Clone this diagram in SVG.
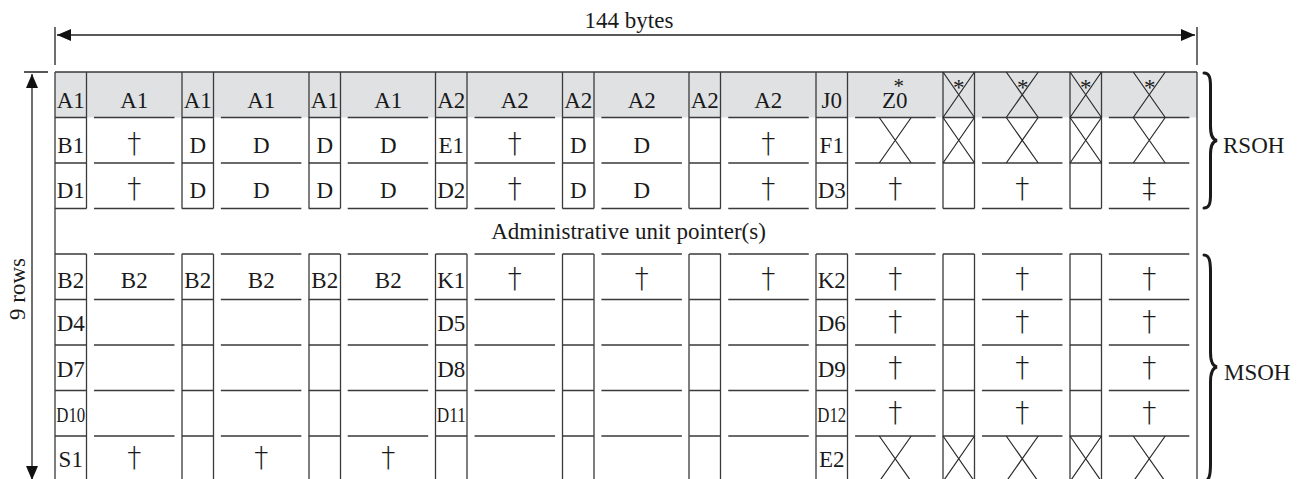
<svg xmlns="http://www.w3.org/2000/svg" xmlns:xlink="http://www.w3.org/1999/xlink" width="1297" height="479" viewBox="0 0 1297 479">
<defs>
<style>
text{font-family:"Liberation Serif","Times New Roman",serif;font-size:23px;fill:#1a1a1a;text-anchor:middle}
.lbl{font-size:23px}
.dg{font-family:"DejaVu Sans","Noto Sans",sans-serif;font-weight:200;font-size:28px}
.ln{stroke:#3a3a3a;stroke-width:1.3;fill:none}
.seg{stroke:#3a3a3a;stroke-width:1.3;stroke-dasharray:31.5 7.5 80.5 7.35}
.x{stroke:#2a2a2a;stroke-width:1.2;fill:none}
.dim{stroke:#222;stroke-width:1.3;fill:none}
.brace{stroke:#1a1a1a;stroke-width:3;fill:none;stroke-linecap:round}
.cond{font-size:22px}
</style>
<marker id="ah" markerWidth="14" markerHeight="12" refX="14" refY="6" orient="auto-start-reverse" markerUnits="userSpaceOnUse">
<path d="M0,0 L14,6 L0,12 z" fill="#111"/>
</marker>
<path id="xw" class="x" d="M-16,0 L16,45.5 M16,0 L-16,45.5"/>
<path id="xs" class="x" d="M0,0 L31.5,45.5 M31.5,0 L0,45.5"/>
</defs>

<g id="frame">
<rect x="55" y="72" width="1142" height="45.5" fill="#e0e1e3"/>
<path class="ln" d="M55,72 H1197 M55,72 V481.5 M1197,72 V481.5"/>
</g>

<g id="grid">
<line class="seg" x1="55" y1="117.5" x2="1189.5" y2="117.5"/>
<line class="seg" x1="55" y1="163" x2="1189.5" y2="163"/>
<line class="seg" x1="55" y1="208.5" x2="1189.5" y2="208.5"/>
<line class="seg" x1="55" y1="254" x2="1189.5" y2="254"/>
<line class="seg" x1="55" y1="299.5" x2="1189.5" y2="299.5"/>
<line class="seg" x1="55" y1="345" x2="1189.5" y2="345"/>
<line class="seg" x1="55" y1="390.5" x2="1189.5" y2="390.5"/>
<line class="seg" x1="55" y1="436" x2="1189.5" y2="436"/>
<path class="ln" d="M86.5,72V208.5M86.5,254V481.5 M182,72V208.5M182,254V481.5 M213.5,72V208.5M213.5,254V481.5 M309,72V208.5M309,254V481.5 M340.5,72V208.5M340.5,254V481.5 M435.5,72V208.5M435.5,254V481.5 M467,72V208.5M467,254V481.5 M562.5,72V208.5M562.5,254V481.5 M594,72V208.5M594,254V481.5 M689,72V208.5M689,254V481.5 M720.5,72V208.5M720.5,254V481.5 M816,72V208.5M816,254V481.5 M847.5,72V208.5M847.5,254V481.5 M943,72V208.5M943,254V481.5 M974.5,72V208.5M974.5,254V481.5 M1070,72V208.5M1070,254V481.5 M1101.5,72V208.5M1101.5,254V481.5"/>
</g>

<g id="row-A">
<text x="70.75" y="108">A1</text><text x="134.25" y="108">A1</text>
<text x="197.75" y="108">A1</text><text x="261.25" y="108">A1</text>
<text x="324.75" y="108">A1</text><text x="388.25" y="108">A1</text>
<text x="451.25" y="108">A2</text><text x="514.75" y="108">A2</text>
<text x="578.25" y="108">A2</text><text x="641.75" y="108">A2</text>
<text x="704.75" y="108">A2</text><text x="768.25" y="108">A2</text>
<text x="831.75" y="108">J0</text>
<text x="882" y="107.5" style="text-anchor:start">Z0<tspan dx="-14" dy="-15" style="font-size:21px">*</tspan></text>
<use xlink:href="#xs" x="943" y="72"/><text x="958.75" y="95">*</text>
<use xlink:href="#xw" x="1022.25" y="72"/><text x="1022.75" y="95">*</text>
<use xlink:href="#xs" x="1070" y="72"/><text x="1085.75" y="95">*</text>
<use xlink:href="#xw" x="1149.25" y="72"/><text x="1149.75" y="95">*</text>
</g>

<g id="row-B1">
<text x="70.75" y="153">B1</text><text class="dg" x="134.25" y="153">†</text>
<text x="197.75" y="153">D</text><text x="261.25" y="153">D</text>
<text x="324.75" y="153">D</text><text x="388.25" y="153">D</text>
<text x="451.25" y="153">E1</text><text class="dg" x="514.75" y="153">†</text>
<text x="578.25" y="153">D</text><text x="641.75" y="153">D</text>
<text class="dg" x="768.25" y="153">†</text>
<text x="831.75" y="153">F1</text>
<use xlink:href="#xw" x="895.25" y="117.5"/>
<use xlink:href="#xs" x="943" y="117.5"/>
<use xlink:href="#xw" x="1022.25" y="117.5"/>
<use xlink:href="#xs" x="1070" y="117.5"/>
<use xlink:href="#xw" x="1149.25" y="117.5"/>
</g>

<g id="row-D1">
<text x="70.75" y="198">D1</text><text class="dg" x="134.25" y="198">†</text>
<text x="197.75" y="198">D</text><text x="261.25" y="198">D</text>
<text x="324.75" y="198">D</text><text x="388.25" y="198">D</text>
<text x="451.25" y="198">D2</text><text class="dg" x="514.75" y="198">†</text>
<text x="578.25" y="198">D</text><text x="641.75" y="198">D</text>
<text class="dg" x="768.25" y="198">†</text>
<text x="831.75" y="198">D3</text><text class="dg" x="895.25" y="198">†</text>
<text class="dg" x="1022.25" y="198">†</text>
<text class="dg" x="1149.25" y="198">‡</text>
</g>

<g id="au-pointer">
<text class="lbl" x="628.5" y="239">Administrative unit pointer(s)</text>
</g>

<g id="row-B2">
<text x="70.75" y="288">B2</text><text x="134.25" y="288">B2</text>
<text x="197.75" y="288">B2</text><text x="261.25" y="288">B2</text>
<text x="324.75" y="288">B2</text><text x="388.25" y="288">B2</text>
<text x="451.25" y="288">K1</text><text class="dg" x="514.75" y="288">†</text>
<text class="dg" x="641.75" y="288">†</text>
<text class="dg" x="768.25" y="288">†</text>
<text x="831.75" y="288">K2</text><text class="dg" x="895.25" y="288">†</text>
<text class="dg" x="1022.25" y="288">†</text>
<text class="dg" x="1149.25" y="288">†</text>
</g>

<g id="row-D4">
<text x="70.75" y="331">D4</text>
<text x="451.25" y="331">D5</text>
<text x="831.75" y="331">D6</text><text class="dg" x="895.25" y="331">†</text>
<text class="dg" x="1022.25" y="331">†</text>
<text class="dg" x="1149.25" y="331">†</text>
</g>

<g id="row-D7">
<text x="70.75" y="377">D7</text>
<text x="451.25" y="377">D8</text>
<text x="831.75" y="377">D9</text><text class="dg" x="895.25" y="377">†</text>
<text class="dg" x="1022.25" y="377">†</text>
<text class="dg" x="1149.25" y="377">†</text>
</g>

<g id="row-D10">
<text class="cond" x="70.75" y="422" textLength="29" lengthAdjust="spacingAndGlyphs">D10</text>
<text class="cond" x="451.25" y="422" textLength="29" lengthAdjust="spacingAndGlyphs">D11</text>
<text class="cond" x="831.75" y="422" textLength="29" lengthAdjust="spacingAndGlyphs">D12</text>
<text class="dg" x="895.25" y="422">†</text>
<text class="dg" x="1022.25" y="422">†</text>
<text class="dg" x="1149.25" y="422">†</text>
</g>

<g id="row-S1">
<text x="70.75" y="467">S1</text><text class="dg" x="134.25" y="467">†</text>
<text class="dg" x="261.25" y="467">†</text>
<text class="dg" x="388.25" y="467">†</text>
<text x="831.75" y="467">E2</text>
<use xlink:href="#xw" x="895.25" y="436"/>
<use xlink:href="#xs" x="943" y="436"/>
<use xlink:href="#xw" x="1022.25" y="436"/>
<use xlink:href="#xs" x="1070" y="436"/>
<use xlink:href="#xw" x="1149.25" y="436"/>
</g>

<g id="connectors">
<path class="dim" d="M55,27 V65 M1197,27 V65 M24,72 H48"/>
<line class="dim" x1="57" y1="35" x2="1195" y2="35" marker-start="url(#ah)" marker-end="url(#ah)"/>
<line class="dim" x1="32" y1="74" x2="32" y2="480" marker-start="url(#ah)" marker-end="url(#ah)"/>
</g>

<g id="labels">
<text class="lbl" x="629" y="28">144 bytes</text>
<text class="lbl" transform="translate(25,289) rotate(-90)">9 rows</text>
<text class="lbl" x="1223" y="153" style="text-anchor:start">RSOH</text>
<text class="lbl" x="1224" y="380" style="text-anchor:start">MSOH</text>
</g>

<g id="braces">
<path class="brace" d="M1204,73 C1209,73 1210.5,77 1210.5,86 L1210.5,126 C1210.5,135 1212,139.5 1217,140.5 C1212,141.5 1210.5,146 1210.5,155 L1210.5,195 C1210.5,204 1209,208 1204,208"/>
<path class="brace" d="M1204,255 C1209,255 1210.5,260 1210.5,272 L1210.5,352 C1210.5,361 1212,366 1217,367 C1212,368 1210.5,373 1210.5,382 L1210.5,464 C1210.5,476 1209,481 1204,481"/>
</g>
</svg>
